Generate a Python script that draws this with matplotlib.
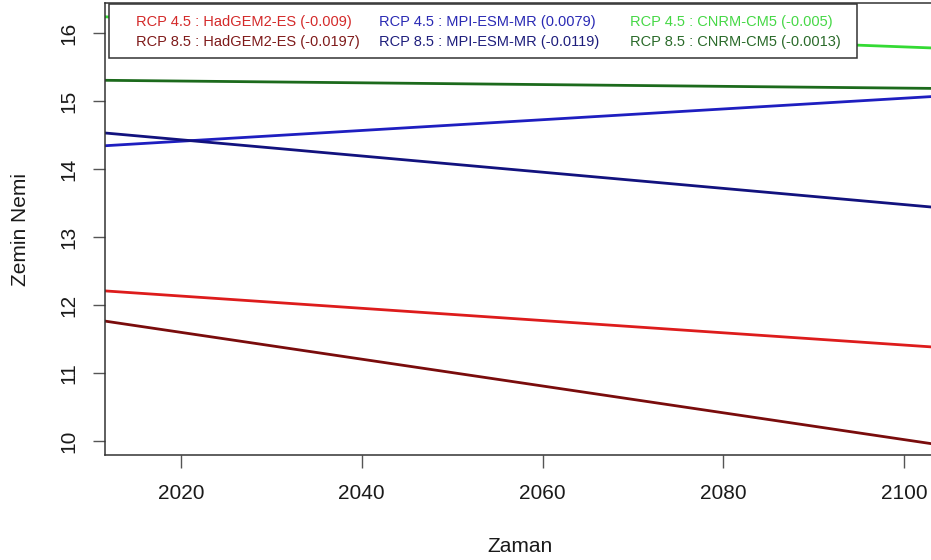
#!/usr/bin/env python3
"""
Soil moisture trend lines (linear fits) for three climate models under
RCP 4.5 and RCP 8.5, drawn in the style of an R base plot.
"""

import matplotlib
matplotlib.use("Agg")
import matplotlib.pyplot as plt
import matplotlib.patches as mpatches

plt.rcParams['font.family'] = ['Liberation Sans', 'DejaVu Sans']

# Data: regression lines (slope from legend, level read at year 2015)
labels = [
    'RCP 4.5 : HadGEM2-ES (-0.009)',
    'RCP 8.5 : HadGEM2-ES (-0.0197)',
    'RCP 4.5 : MPI-ESM-MR (0.0079)',
    'RCP 8.5 : MPI-ESM-MR (-0.0119)',
    'RCP 4.5 : CNRM-CM5 (-0.005)',
    'RCP 8.5 : CNRM-CM5 (-0.0013)',
]
slopes = [-0.009, -0.0197, 0.0079, -0.0119, -0.005, -0.0013]
ref_year = 2015
level_at_ref = [12.18, 11.70, 14.37, 14.49, 16.22, 15.30]

x_ticks = [2020, 2040, 2060, 2080, 2100]
y_ticks = [10, 11, 12, 13, 14, 15, 16]

# Colours (R: red, darkred, blue, darkblue, green, darkgreen after jpeg)
line_colors = ['#DD1C1C', '#7A0C0C', '#1E1EC0', '#12127E', '#34DA34', '#1C6A1C']
text_colors = ['#D42A2A', '#7E1A1A', '#2A2AB4', '#1E1E7C', '#46D846', '#2A6A2A']

W, H = 931, 560
fig = plt.figure(figsize=(W / 100, H / 100), dpi=100)
ax = fig.add_axes([105 / W, 1 - 455 / H, 830 / W, 452 / H])

for lvl, s, c in zip(level_at_ref, slopes, line_colors):
    ax.axline((ref_year, lvl), slope=s, color=c, lw=2)

ax.set_xlim(2011.6, 2103.4)
ax.set_ylim(9.80, 16.44)
ax.set_xticks(x_ticks)
ax.set_yticks(y_ticks)

for sp in ax.spines.values():
    sp.set_color('#333333')
    sp.set_linewidth(1.1)

ax.tick_params(axis='both', direction='out', length=9, width=1, color='#555555',
               labelsize=15, labelcolor='#1a1a1a')
ax.tick_params(axis='x', pad=12)
ax.tick_params(axis='y', pad=10, labelrotation=90)
for t in ax.get_yticklabels():
    t.set_va('center')

ax.set_xlabel('Zaman', fontsize=15, color='#1a1a1a')
ax.set_ylabel('Zemin Nemi', fontsize=15, color='#1a1a1a')
ax.xaxis.set_label_coords(0.5, -0.182)
ax.yaxis.set_label_coords(-0.090, 0.5)

# Legend: text only, three columns in a boxed frame
box = mpatches.Rectangle((109 / W, 1 - 58 / H), (857 - 109) / W, 54 / H,
                         transform=fig.transFigure, facecolor='white',
                         edgecolor='#333333', lw=1.1, zorder=5)
fig.patches.append(box)
col_x = [136, 379, 630]
row_y = [22, 42]
for i, (lab, tc) in enumerate(zip(labels, text_colors)):
    fig.text(col_x[i // 2] / W, 1 - row_y[i % 2] / H, lab, color=tc,
             fontsize=10.5, ha='left', va='center', zorder=6)

plt.savefig('out.png', dpi=100, facecolor='white')
plt.close()
